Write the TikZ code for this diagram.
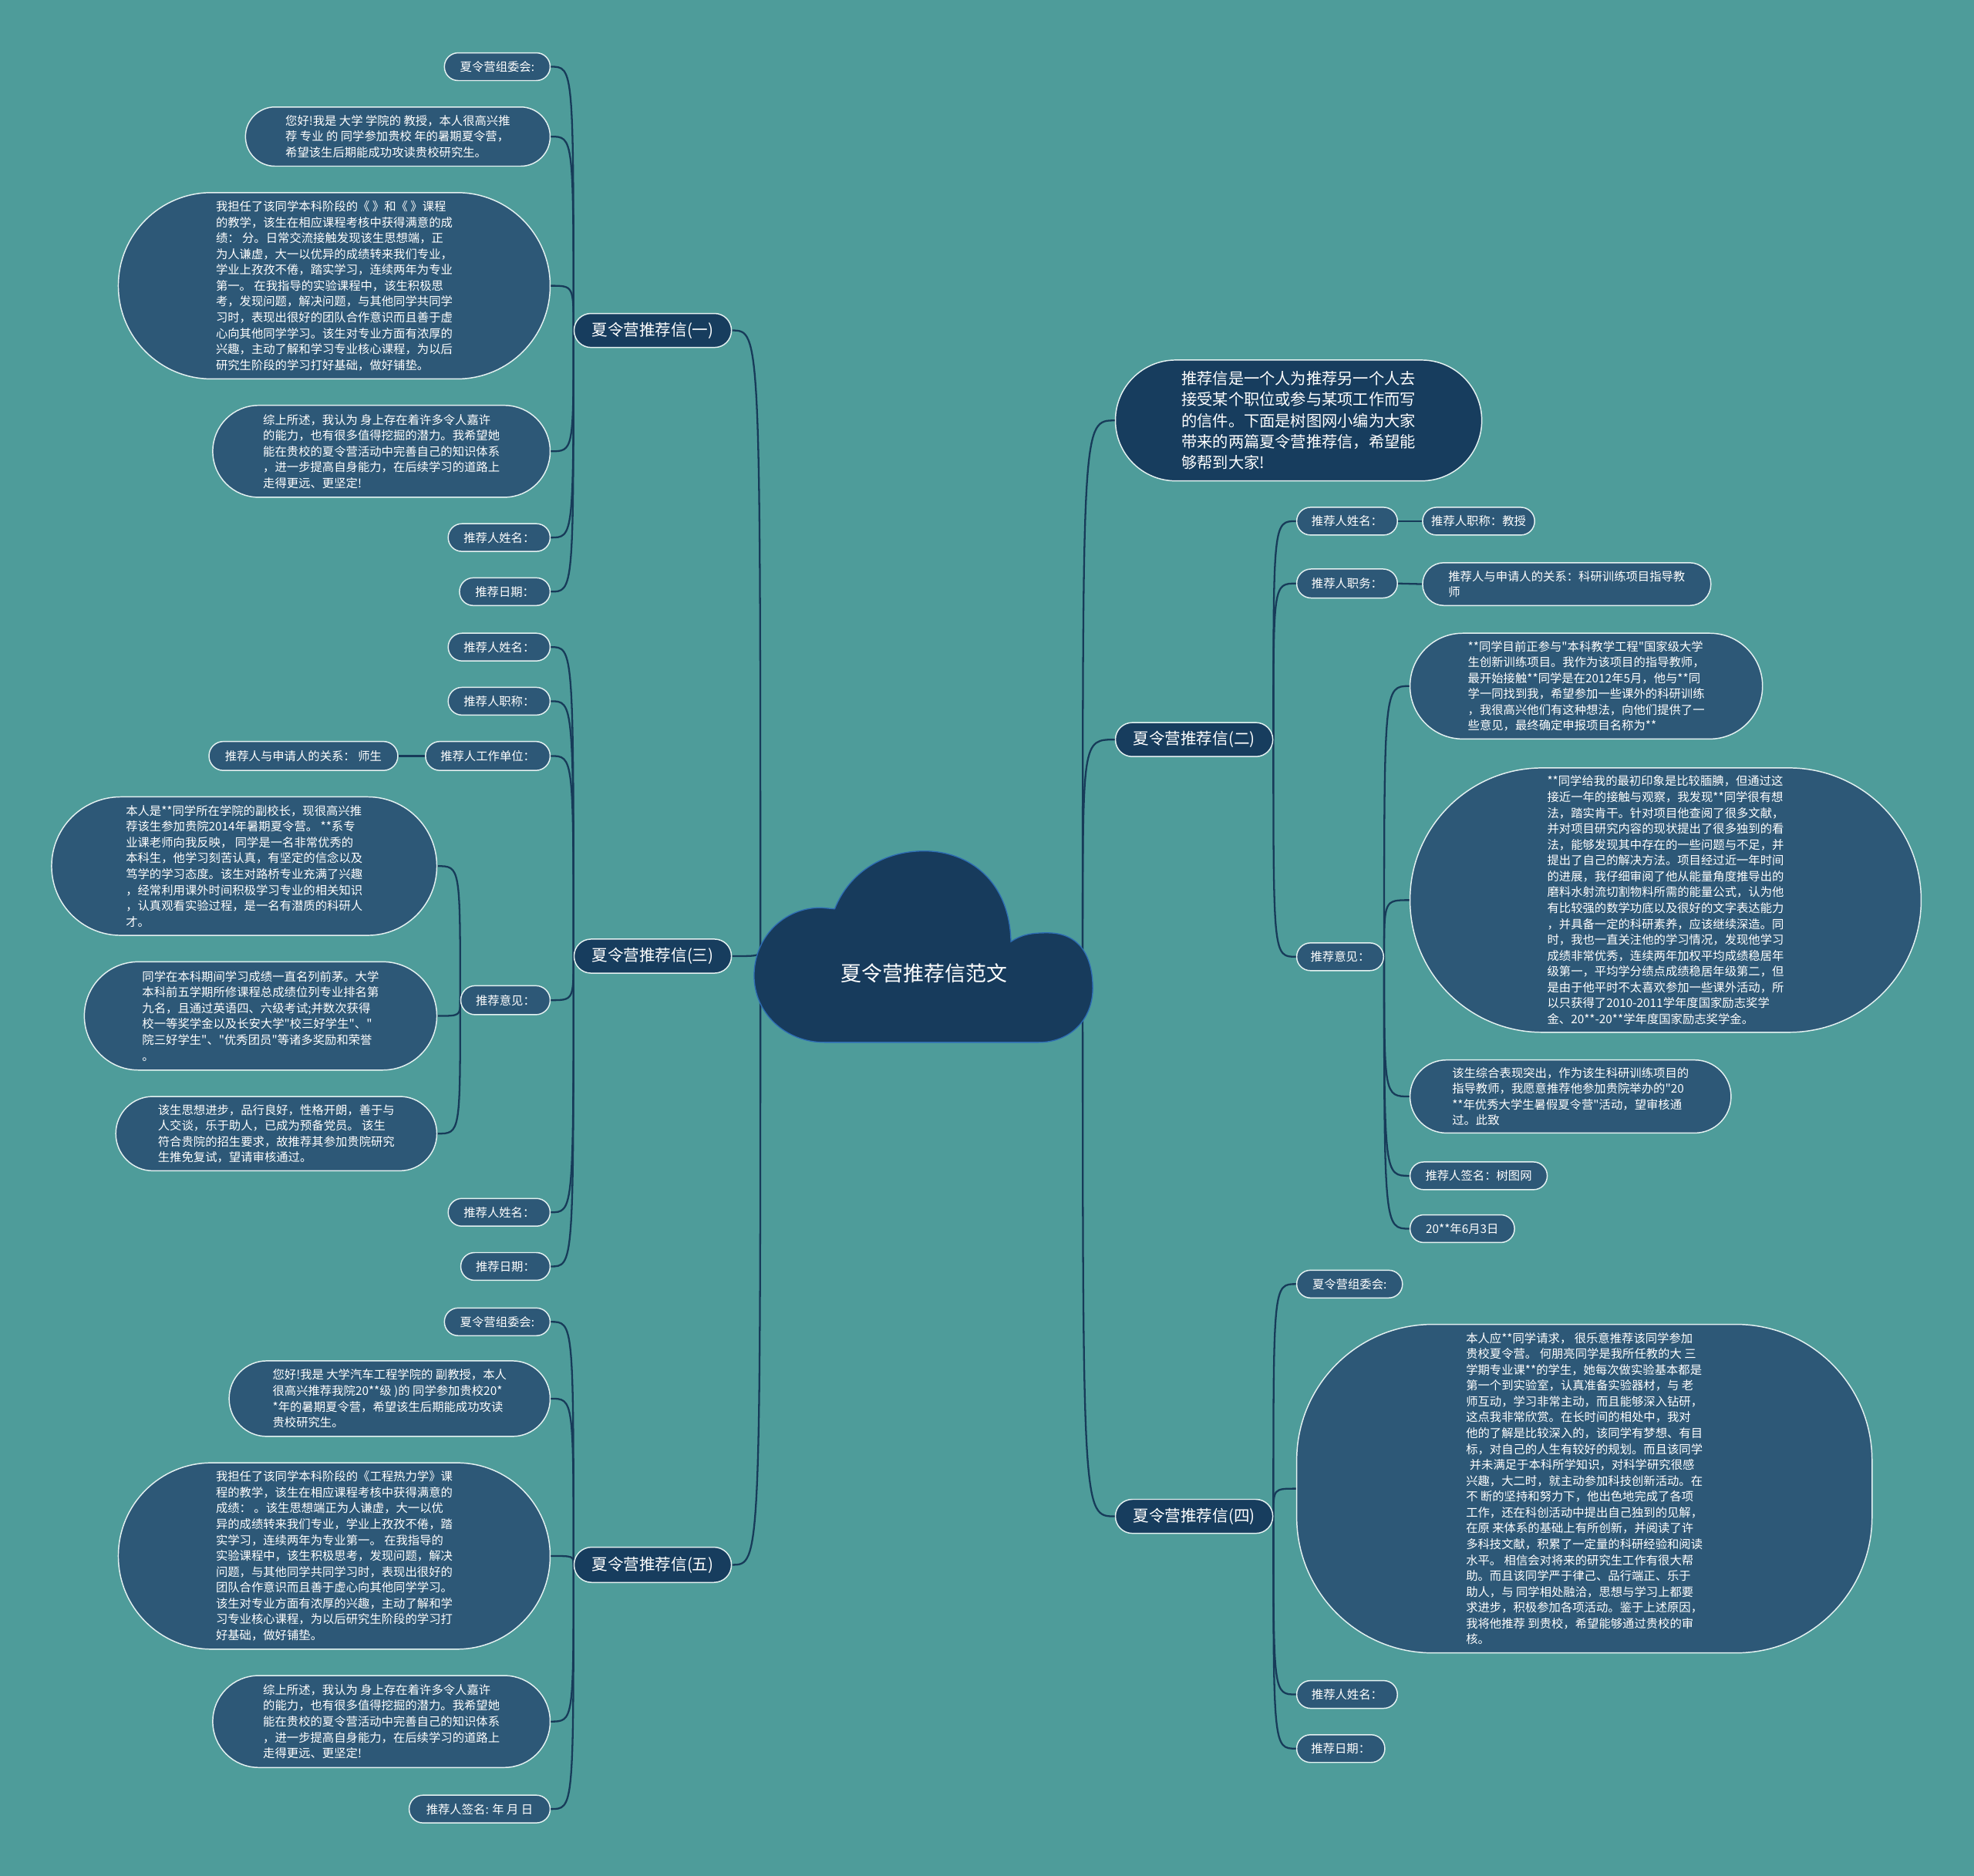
\documentclass[tikz,border=0pt]{standalone}
\usepackage{fontspec}
\newfontfamily\cjkf{Noto Sans CJK SC}
\definecolor{bgc}{HTML}{4E9C9A}
\definecolor{leafc}{HTML}{2D5877}
\definecolor{branchc}{HTML}{173D5E}
\definecolor{bordc}{HTML}{E4F1F1}
\definecolor{linec}{HTML}{173B59}
\definecolor{cloudc}{HTML}{173B5C}
\definecolor{cloudedge}{HTML}{2E6DB4}
\pgfdeclarelayer{bg}
\pgfsetlayers{bg,main}
\tikzset{
  leaf/.style={draw=bordc, fill=leafc, line width=0.9pt, text=white, inner sep=0pt, align=left, font={\cjkf\fontsize{9.4}{12.6}\selectfont}},
  branch/.style={leaf, fill=branchc, font={\cjkf\fontsize{12.6}{15}\selectfont}},
  introbox/.style={leaf, fill=branchc, font={\cjkf\fontsize{12.4}{16.8}\selectfont}},
  link/.style={draw=linec, line width=1.4pt},
}
\newcommand\bx[7]{%
  \pgfmathsetmacro\myW{#5-#3}%
  \pgfmathsetmacro\myH{#6-#4}%
  \pgfmathsetmacro\myR{min(\myH/2-0.1,108)}%
  \pgfmathsetmacro\myX{(#3+#5)/2}%
  \pgfmathsetmacro\myY{(#4+#6)/2}%
  \node[#1, minimum width=\myW pt, minimum height=\myH pt, rounded corners=\myR pt] (#2) at (\myX,\myY) {#7};}
\newcommand\lk[2]{\draw[link] (#1) .. controls (#1 |- #2) .. (#2);}
\begin{document}
\begin{tikzpicture}[x=1pt,y=-1pt]
\begin{pgfonlayer}{bg}
\fill[bgc] (0,0) rectangle (1568,1490);
\end{pgfonlayer}
\useasboundingbox (0,0) rectangle (1568,1490);
% cloud
\filldraw[fill=cloudc, draw=cloudedge, line width=0.8pt]
 (663,722) .. controls (675,692) and (703,676) .. (734,676)
 .. controls (770,676) and (802,700) .. (803,748)
 .. controls (812,742) and (820,741) .. (832,741)
 .. controls (858,741) and (868,760) .. (868,785)
 .. controls (868,810) and (850,828) .. (825,828)
 -- (655,828)
 .. controls (624,828) and (599,805) .. (599,775)
 .. controls (599,745) and (622,721) .. (652,721) -- cycle;
\node[font={\cjkf\fontsize{16.5}{20}\selectfont}, text=white] (root) at (734,773) {夏令营推荐信范文};
\coordinate (cL) at (604,752);
\coordinate (cR) at (860,754);
% branches
\bx{branch}{b1}{456}{249}{581}{276}{夏令营推荐信(一)}
\bx{branch}{b3}{456}{746}{581}{773}{夏令营推荐信(三)}
\bx{branch}{b5}{456}{1229}{581}{1257}{夏令营推荐信(五)}
\bx{introbox}{intro}{886}{286}{1177}{382}{推荐信是一个人为推荐另一个人去\\接受某个职位或参与某项工作而写\\的信件。下面是树图网小编为大家\\带来的两篇夏令营推荐信，希望能\\够帮到大家!}
\bx{branch}{b2}{886}{574}{1011}{601}{夏令营推荐信(二)}
\bx{branch}{b4}{886}{1191}{1011}{1218}{夏令营推荐信(四)}
% group 1
\bx{leaf}{a1}{353}{42}{437}{64}{夏令营组委会:}
\bx{leaf}{a2}{195}{85}{437}{132}{您好!我是 大学 学院的 教授，本人很高兴推\\荐 专业 的 同学参加贵校 年的暑期夏令营，\\希望该生后期能成功攻读贵校研究生。}
\bx{leaf}{a3}{94}{153}{437}{301}{我担任了该同学本科阶段的《 》和《 》课程\\的教学，该生在相应课程考核中获得满意的成\\绩： 分。日常交流接触发现该生思想端，正\\为人谦虚，大一以优异的成绩转来我们专业，\\学业上孜孜不倦，踏实学习，连续两年为专业\\第一。 在我指导的实验课程中，该生积极思\\考，发现问题，解决问题，与其他同学共同学\\习时，表现出很好的团队合作意识而且善于虚\\心向其他同学学习。该生对专业方面有浓厚的\\兴趣，主动了解和学习专业核心课程，为以后\\研究生阶段的学习打好基础，做好铺垫。}
\bx{leaf}{a4}{169}{322}{437}{395}{综上所述，我认为 身上存在着许多令人嘉许\\的能力，也有很多值得挖掘的潜力。我希望她\\能在贵校的夏令营活动中完善自己的知识体系\\，进一步提高自身能力，在后续学习的道路上\\走得更远、更坚定!}
\bx{leaf}{a5}{356}{416}{437}{438}{推荐人姓名：}
\bx{leaf}{a6}{365}{459}{437}{481}{推荐日期：}
% group 3
\bx{leaf}{c1}{356}{503}{437}{525}{推荐人姓名：}
\bx{leaf}{c2}{356}{546}{437}{568}{推荐人职称：}
\bx{leaf}{c3}{338}{589}{437}{612}{推荐人工作单位：}
\bx{leaf}{c3a}{166}{589}{316}{612}{推荐人与申请人的关系： 师生}
\bx{leaf}{c4}{366}{783}{437}{806}{推荐意见：}
\bx{leaf}{c4a}{41}{633}{347}{743}{本人是**同学所在学院的副校长，现很高兴推\\荐该生参加贵院2014年暑期夏令营。 **系专\\业课老师向我反映， 同学是一名非常优秀的\\本科生，他学习刻苦认真，有坚定的信念以及\\笃学的学习态度。该生对路桥专业充满了兴趣\\，经常利用课外时间积极学习专业的相关知识\\，认真观看实验过程，是一名有潜质的科研人\\才。}
\bx{leaf}{c4b}{67}{764}{347}{850}{同学在本科期间学习成绩一直名列前茅。大学\\本科前五学期所修课程总成绩位列专业排名第\\九名，且通过英语四、六级考试;并数次获得\\校一等奖学金以及长安大学"校三好学生"、"\\院三好学生"、"优秀团员"等诸多奖励和荣誉\\。}
\bx{leaf}{c4c}{92}{871}{347}{930}{该生思想进步，品行良好，性格开朗，善于与\\人交谈，乐于助人，已成为预备党员。 该生\\符合贵院的招生要求，故推荐其参加贵院研究\\生推免复试，望请审核通过。}
\bx{leaf}{c5}{356}{952}{437}{974}{推荐人姓名：}
\bx{leaf}{c6}{366}{995}{437}{1017}{推荐日期：}
% group 5
\bx{leaf}{e1}{353}{1039}{437}{1061}{夏令营组委会:}
\bx{leaf}{e2}{182}{1081}{437}{1141}{您好!我是 大学汽车工程学院的 副教授，本人\\很高兴推荐我院20**级 )的 同学参加贵校20*\\{}*年的暑期夏令营，希望该生后期能成功攻读\\贵校研究生。}
\bx{leaf}{e3}{94}{1162}{437}{1310}{我担任了该同学本科阶段的《工程热力学》课\\程的教学，该生在相应课程考核中获得满意的\\成绩： 。该生思想端正为人谦虚，大一以优\\异的成绩转来我们专业，学业上孜孜不倦，踏\\实学习，连续两年为专业第一。 在我指导的\\实验课程中，该生积极思考，发现问题，解决\\问题，与其他同学共同学习时，表现出很好的\\团队合作意识而且善于虚心向其他同学学习。\\该生对专业方面有浓厚的兴趣，主动了解和学\\习专业核心课程，为以后研究生阶段的学习打\\好基础，做好铺垫。}
\bx{leaf}{e4}{169}{1331}{437}{1404}{综上所述，我认为 身上存在着许多令人嘉许\\的能力，也有很多值得挖掘的潜力。我希望她\\能在贵校的夏令营活动中完善自己的知识体系\\，进一步提高自身能力，在后续学习的道路上\\走得更远、更坚定!}
\bx{leaf}{e5}{325}{1426}{437}{1448}{推荐人签名: 年 月 日}
% group 2
\bx{leaf}{d1}{1030}{403}{1110}{425}{推荐人姓名：}
\bx{leaf}{d1a}{1130}{403}{1219}{425}{推荐人职称：教授}
\bx{leaf}{d2}{1030}{452}{1110}{475}{推荐人职务：}
\bx{leaf}{d2a}{1130}{447}{1359}{481}{推荐人与申请人的关系：科研训练项目指导教\\师}
\bx{leaf}{d3}{1030}{749}{1099}{771}{推荐意见：}
\bx{leaf}{d3a}{1120}{503}{1400}{587}{**同学目前正参与"本科教学工程"国家级大学\\生创新训练项目。我作为该项目的指导教师，\\最开始接触**同学是在2012年5月，他与**同\\学一同找到我，希望参加一些课外的科研训练\\，我很高兴他们有这种想法，向他们提供了一\\些意见，最终确定申报项目名称为**}
\bx{leaf}{d3b}{1120}{610}{1526}{820}{**同学给我的最初印象是比较腼腆，但通过这\\接近一年的接触与观察，我发现**同学很有想\\法，踏实肯干。针对项目他查阅了很多文献，\\并对项目研究内容的现状提出了很多独到的看\\法，能够发现其中存在的一些问题与不足，并\\提出了自己的解决方法。项目经过近一年时间\\的进展，我仔细审阅了他从能量角度推导出的\\磨料水射流切割物料所需的能量公式，认为他\\有比较强的数学功底以及很好的文字表达能力\\，并具备一定的科研素养，应该继续深造。同\\时，我也一直关注他的学习情况，发现他学习\\成绩非常优秀，连续两年加权平均成绩稳居年\\级第一，平均学分绩点成绩稳居年级第二，但\\是由于他平时不太喜欢参加一些课外活动，所\\以只获得了2010-2011学年度国家励志奖学\\金、20**-20**学年度国家励志奖学金。}
\bx{leaf}{d3c}{1120}{842}{1375}{900}{该生综合表现突出，作为该生科研训练项目的\\指导教师，我愿意推荐他参加贵院举办的"20\\{}**年优秀大学生暑假夏令营"活动，望审核通\\过。此致}
\bx{leaf}{d3d}{1120}{923}{1229}{945}{推荐人签名：树图网}
\bx{leaf}{d3e}{1120}{965}{1203}{987}{20**年6月3日}
% group 4
\bx{leaf}{f1}{1030}{1009}{1114}{1031}{夏令营组委会:}
\bx{leaf}{f2}{1030}{1052}{1487}{1313}{本人应**同学请求， 很乐意推荐该同学参加\\贵校夏令营。 何朋亮同学是我所任教的大 三\\学期专业课**的学生，她每次做实验基本都是\\第一个到实验室，认真准备实验器材，与 老\\师互动，学习非常主动，而且能够深入钻研，\\这点我非常欣赏。在长时间的相处中，我对\\他的了解是比较深入的，该同学有梦想、有目\\标，对自己的人生有较好的规划。而且该同学\\\hspace*{0.3em}并未满足于本科所学知识，对科学研究很感\\兴趣，大二时，就主动参加科技创新活动。在\\不 断的坚持和努力下，他出色地完成了各项\\工作，还在科创活动中提出自己独到的见解，\\在原 来体系的基础上有所创新，并阅读了许\\多科技文献，积累了一定量的科研经验和阅读\\水平。 相信会对将来的研究生工作有很大帮\\助。而且该同学严于律己、品行端正、乐于\\助人，与 同学相处融洽，思想与学习上都要\\求进步，积极参加各项活动。鉴于上述原因，\\我将他推荐 到贵校，希望能够通过贵校的审\\核。}
\bx{leaf}{f3}{1030}{1335}{1110}{1357}{推荐人姓名：}
\bx{leaf}{f4}{1030}{1378}{1100}{1400}{推荐日期：}
% connectors
\begin{pgfonlayer}{bg}
\lk{cL}{b1.east}
\lk{cL}{b3.east}
\lk{cL}{b5.east}
\lk{cR}{intro.west}
\lk{cR}{b2.west}
\lk{cR}{b4.west}
\foreach \c in {a1,a2,a3,a4,a5,a6} {\lk{b1.west}{\c.east}}
\foreach \c in {c1,c2,c3,c4,c5,c6} {\lk{b3.west}{\c.east}}
\draw[link] (c3.west) -- (c3a.east);
\foreach \c in {c4a,c4b,c4c} {\lk{c4.west}{\c.east}}
\foreach \c in {e1,e2,e3,e4,e5} {\lk{b5.west}{\c.east}}
\foreach \c in {d1,d2,d3} {\lk{b2.east}{\c.west}}
\draw[link] (d1.east) -- (d1a.west);
\draw[link] (d2.east) -- (d2a.west);
\foreach \c in {d3a,d3b,d3c,d3d,d3e} {\lk{d3.east}{\c.west}}
\foreach \c in {f1,f2,f3,f4} {\lk{b4.east}{\c.west}}
\end{pgfonlayer}
\end{tikzpicture}
\end{document}
